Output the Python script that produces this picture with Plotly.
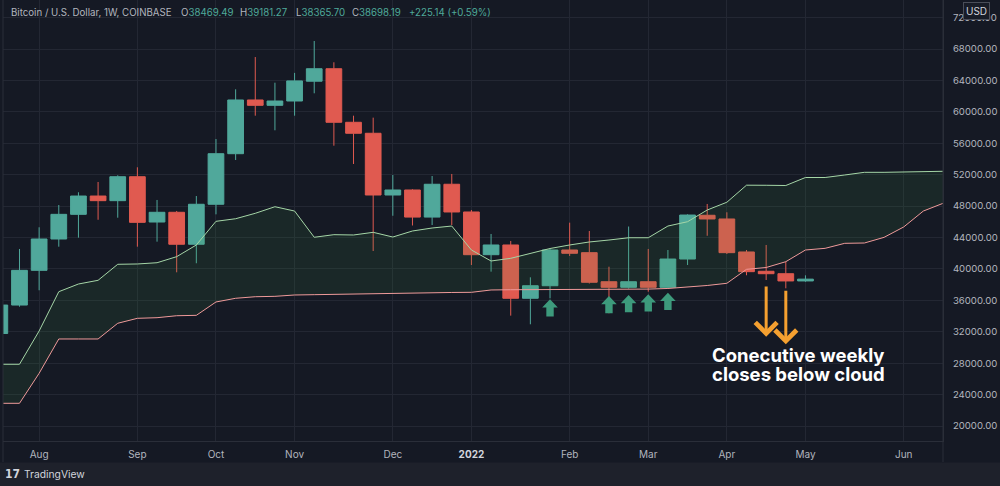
import plotly.graph_objects as go
import pandas as pd

# weekly bars (Monday opens), BTC/USD Coinbase
weeks = pd.date_range("2021-07-19", periods=49, freq="7D")

opens = [31780, 35400, 39820, 43810, 46950, 49280, 48690, 51740, 45970, 47210,
         43140, 48230, 54670, 61510, 60830, 61380, 63900, 65490, 58670, 57270,
         49410, 50050, 46600, 50780, 47250, 41810, 43050, 36260, 37860, 42410,
         42070, 38370, 37660, 38370, 37660, 41260, 46830, 46360, 42160, 39700,
         39390, 38469.49]
highs = [35500, 42540, 45300, 48140, 49760, 51070, 51920, 52940, 48780, 47380,
         49280, 56540, 62870, 66980, 63710, 64960, 69020, 66310, 59510, 59260,
         51960, 50140, 51830, 52090, 47500, 44450, 43560, 38930, 42540, 45890,
         44830, 40280, 45400, 42540, 42410, 46950, 48270, 47210, 42410, 43050,
         40920, 39181.27]
lows = [29300, 35190, 37280, 42830, 43980, 46260, 46520, 42830, 43470, 39570,
        40720, 46950, 53870, 59510, 57650, 59510, 62360, 55690, 53360, 42280,
        46770, 45530, 45590, 45590, 40500, 39650, 34050, 32950, 36250, 41650,
        38140, 34350, 37500, 37100, 37550, 40500, 44220, 41900, 39190, 38590,
        37530, 38365.70]
closes = [35400, 39820, 43810, 46950, 49280, 48690, 51740, 45930, 47210, 43140,
          48230, 54670, 61510, 60830, 61380, 63940, 65490, 58670, 57270, 49410,
          50050, 46600, 50780, 47250, 41810, 43050, 36260, 37860, 42410, 41990,
          38300, 37660, 38370, 37660, 41260, 46860, 46360, 42070, 39650, 39390,
          38470, 38698.19]

# Ichimoku leading spans (cloud)
span_a = [27860, 27860, 32100, 37100, 38080, 38550, 40590, 40630, 40790, 41560,
          43050, 46060, 46390, 47080, 47920, 47370, 44030, 44360, 44320, 44660,
          44060, 44830, 45210, 45460, 42410, 41010, 41350, 41990, 42600, 43050,
          43430, 43680, 43970, 43970, 45460, 46010, 47500, 48490, 50660, 50650,
          50620, 51640, 51640, 51960, 52300, 52300, 52340, 52400, 52430]
span_b = [22890, 22890, 26710, 31080, 31080, 31080, 33080, 33710, 33790, 34040,
          34090, 35790, 36260, 36460, 36510, 36680, 36720, 36770, 36780, 36830,
          36870, 36910, 36960, 37000, 37020, 37320, 37350, 37350, 37370, 37380,
          37390, 37400, 37420, 37430, 37510, 37660, 37890, 38170, 39950, 40180,
          40920, 42410, 42620, 43260, 43300, 44020, 45340, 47370, 48350]

tick_dates = ["2021-08-02", "2021-09-06", "2021-10-04", "2021-11-01", "2021-12-06",
              "2022-01-03", "2022-02-07", "2022-03-07", "2022-04-04", "2022-05-02",
              "2022-06-06"]
tick_labels = ["Aug", "Sep", "Oct", "Nov", "Dec",
               "<span style='color:#d1d4dc'><b>2022</b></span>",
               "Feb", "Mar", "Apr", "May", "Jun"]
price_ticks = [20000, 24000, 28000, 32000, 36000, 40000, 44000, 48000, 52000,
               56000, 60000, 64000, 68000, 72000]

# annotation arrows
bounce_dates = ["2022-01-31", "2022-02-21", "2022-02-28", "2022-03-07", "2022-03-14"]
bounce_tips = [36130, 36550, 36680, 36770, 36970]
below_dates = ["2022-04-18", "2022-04-25"]
below_from = [37950, 37400]
below_to = [31370, 30400]

header_parts = [
    ("Bitcoin / U.S. Dollar, 1W, COINBASE", ""),
    ("O", "38469.49"),
    ("H", "39181.27"),
    ("L", "38365.70"),
    ("C", "38698.19"),
    ("", "+225.14 (+0.59%)"),
]
header_x = [9, 179, 238, 294, 350, 407]

BG = "#151924"
GRID = "#232733"
TXT = "#b2b5be"
UP = "#50a89b"
DOWN = "#e05a50"
FONT = "Inter"

W, H = 1000, 486
ML, MR, MT, MB = 3, 57, 0, 45
PW, PH = W - ML - MR, H - MT - MB


def px_x(p):
    return (p - ML) / PW


def px_y(p):
    return (PH - p) / PH


fig = go.Figure()

fig.add_trace(go.Scatter(x=weeks, y=span_b, mode="lines",
                         line=dict(color="#ef9a9a", width=1), opacity=0.8,
                         hoverinfo="skip", showlegend=False))
fig.add_trace(go.Scatter(x=weeks, y=span_a, mode="lines",
                         line=dict(color="#a5d6a7", width=1),
                         fill="tonexty", fillcolor="rgba(67,160,71,0.12)",
                         hoverinfo="skip", showlegend=False))

fig.add_trace(go.Candlestick(
    x=weeks[:len(opens)], open=opens, high=highs, low=lows, close=closes,
    increasing=dict(line=dict(color=UP, width=1), fillcolor=UP),
    decreasing=dict(line=dict(color=DOWN, width=1), fillcolor=DOWN),
    whiskerwidth=0, showlegend=False))

# green bounce arrows
for d, tip in zip(bounce_dates, bounce_tips):
    fig.add_shape(type="path", xref="x", yref="y",
                  xsizemode="pixel", ysizemode="pixel",
                  xanchor=d, yanchor=tip,
                  path="M0,0 L7.8,-8.3 L3.7,-8.3 L3.7,-17.3 L-3.7,-17.3 L-3.7,-8.3 L-7.8,-8.3 Z",
                  fillcolor="#3d9a7c", line=dict(width=0))

# orange arrows
for d, a, b in zip(below_dates, below_from, below_to):
    fig.add_annotation(x=d, y=b, ax=d, ay=a, axref="x", ayref="y",
                       xref="x", yref="y", text="", showarrow=True,
                       arrowhead=4, arrowsize=1.4, arrowwidth=3,
                       arrowcolor="#f5a030", standoff=0)

fig.add_annotation(x=px_x(710), y=px_y(355), xref="paper", yref="paper",
                   text="Conecutive weekly", showarrow=False,
                   xanchor="left", yanchor="middle",
                   font=dict(family=FONT, size=18.5, color="#ffffff", weight="bold"))
fig.add_annotation(x=px_x(710), y=px_y(374), xref="paper", yref="paper",
                   text="closes below cloud", showarrow=False,
                   xanchor="left", yanchor="middle",
                   font=dict(family=FONT, size=18.5, color="#ffffff", weight="bold"))

# header legend
for (lab, val), hx in zip(header_parts, header_x):
    txt = lab + (f"<span style='color:#4fa99a'>{val}</span>" if val else "")
    fig.add_annotation(x=px_x(hx), y=px_y(12.5), xref="paper", yref="paper",
                       text=txt, showarrow=False, xanchor="left", yanchor="middle",
                       font=dict(family=FONT, size=9.7, color=TXT))

# USD badge
fig.add_annotation(x=px_x(976), y=px_y(11.5), xref="paper", yref="paper",
                   text="USD", showarrow=False, xanchor="center", yanchor="middle",
                   font=dict(family=FONT, size=10, color="#d1d4dc"),
                   bgcolor="#181c27", bordercolor="#4a4e59",
                   borderwidth=1, borderpad=2)

# footer strip with TradingView mark
fig.add_shape(type="rect", xref="paper", yref="paper",
              x0=px_x(0) - 0.01, x1=px_x(W) + 0.01, y0=px_y(H) - 0.01, y1=px_y(462.5),
              fillcolor="#1e212b", line=dict(width=0), layer="below")
fig.add_shape(type="line", xref="paper", yref="paper",
              x0=1, x1=1, y0=px_y(462), y1=1, line=dict(color="#2a2e39", width=1))
fig.add_shape(type="line", xref="paper", yref="paper",
              x0=0, x1=0, y0=px_y(462), y1=1, line=dict(color="#2a2e39", width=1))
fig.add_annotation(x=px_x(3), y=px_y(474), xref="paper", yref="paper",
                   text="<b>17</b>", showarrow=False, xanchor="left", yanchor="middle",
                   font=dict(family="DejaVu Sans Condensed", size=12, color="#d1d4dc"))
fig.add_annotation(x=px_x(22), y=px_y(474), xref="paper", yref="paper",
                   text="TradingView", showarrow=False, xanchor="left", yanchor="middle",
                   font=dict(family=FONT, size=10.3, color="#d1d4dc"))

fig.update_xaxes(type="date", range=["2021-07-20 03:00", "2022-06-20"],
                 tickvals=tick_dates, ticktext=tick_labels,
                 showgrid=True, gridcolor=GRID, gridwidth=1,
                 showline=True, linecolor="#2a2e39",
                 ticks="outside", ticklen=4, tickcolor="rgba(0,0,0,0)",
                 tickfont=dict(family=FONT, size=10, color=TXT),
                 rangeslider=dict(visible=False), zeroline=False)
fig.update_yaxes(range=[18090, 74240], side="right",
                 tickvals=price_ticks, ticktext=[f"{v:.2f}" for v in price_ticks],
                 showgrid=True, gridcolor=GRID, gridwidth=1,
                 showline=True, linecolor="#2a2e39",
                 ticks="outside", ticklen=7, tickcolor="rgba(0,0,0,0)",
                 tickfont=dict(family=FONT, size=9.6, color=TXT), zeroline=False)

fig.update_layout(width=W, height=H,
                  margin=dict(l=ML, r=MR, t=MT, b=MB, pad=0),
                  paper_bgcolor=BG, plot_bgcolor=BG,
                  boxgap=0.2, boxgroupgap=0,
                  showlegend=False, hovermode=False)

fig.write_html("out.html", config={"displayModeBar": False},
               post_script="document.body.style.margin='0';document.body.style.overflow='hidden';")
